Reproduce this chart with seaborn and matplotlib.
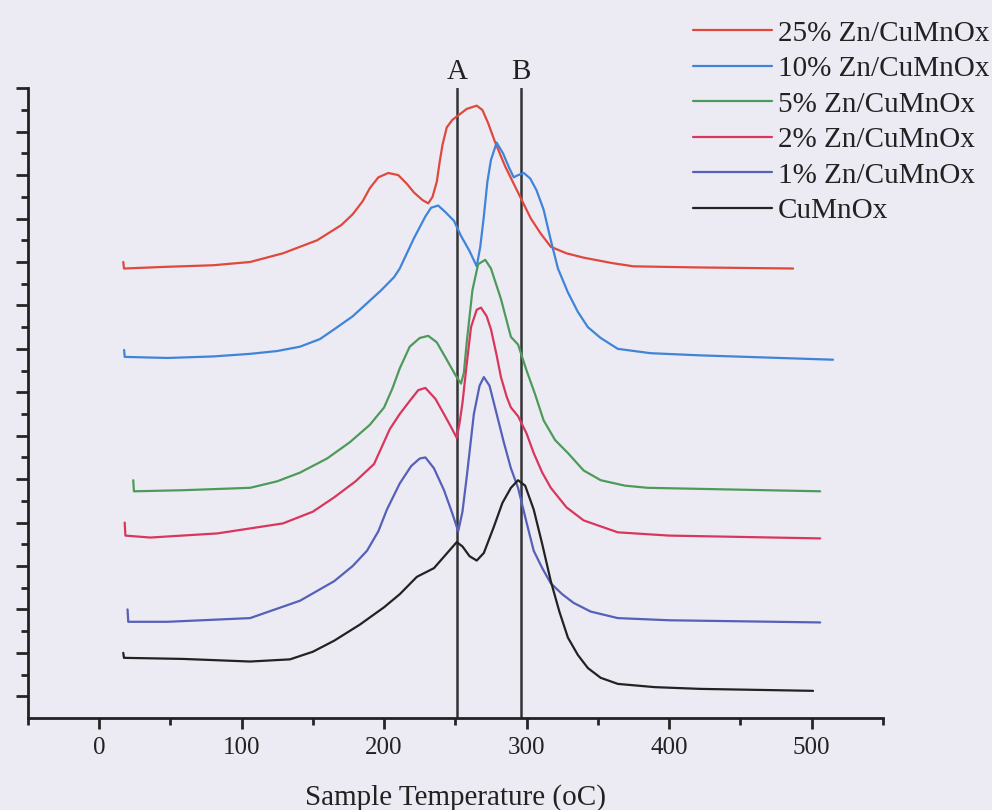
import numpy as np
import pandas as pd
import matplotlib
matplotlib.use("Agg")
import matplotlib.pyplot as plt
import matplotlib.transforms as mtransforms
from matplotlib.ticker import MultipleLocator, NullFormatter
import seaborn as sns

sns.set_style("ticks")
plt.rcParams['font.family'] = ['Liberation Serif', 'DejaVu Serif']

# values (temperature, offset signal)
t_25 = [17, 17.5, 48, 80, 106, 129, 153, 170, 178, 185, 190, 196, 203, 210, 216, 221, 227, 231, 234, 237, 239,
        241, 244, 248, 252, 258, 265, 269, 273, 278, 285, 294, 303, 310, 317, 328, 340, 360, 375, 420, 487]
s_25 = [21.0, 20.7, 20.78, 20.85, 21.0, 21.4, 22.0, 22.7, 23.2, 23.8, 24.4, 24.9, 25.1, 25.0, 24.6, 24.2, 23.85, 23.7,
        24.0, 24.7, 25.6, 26.4, 27.2, 27.55, 27.75, 28.05, 28.2, 28.0, 27.4, 26.5, 25.4, 24.2, 23.0, 22.3, 21.7, 21.4,
        21.2, 20.95, 20.8, 20.75, 20.7]

t_10 = [17.6, 18, 48, 80, 106, 125, 141, 155, 165, 178, 188, 198, 207, 211, 216, 221, 229, 233, 238, 243, 249, 254,
        260, 265, 267.5, 270, 272.5, 275, 279, 283.5, 288, 291, 294, 298, 302.5, 307, 312, 317, 322, 329, 336, 343,
        352, 364, 387, 422, 515]
s_10 = [16.95, 16.63, 16.58, 16.65, 16.77, 16.9, 17.1, 17.45, 17.9, 18.5, 19.1, 19.7, 20.3, 20.7, 21.4, 22.1, 23.1,
        23.5, 23.6, 23.3, 22.9, 22.2, 21.5, 20.8, 21.7, 23.1, 24.7, 25.7, 26.5, 26.0, 25.3, 24.9, 25.0, 25.1, 24.85,
        24.3, 23.4, 22.0, 20.7, 19.6, 18.7, 18.0, 17.5, 17.0, 16.8, 16.7, 16.5]

t_5 = [24, 24.5, 59, 106, 125, 141, 160, 176, 190, 200, 206, 211, 218, 225, 231, 237, 244, 250, 254, 256, 258, 262,
       266, 271, 275, 282, 289, 294, 300, 306, 312, 320, 329, 340, 352, 369, 385, 506]
s_5 = [10.95, 10.44, 10.49, 10.6, 10.9, 11.3, 11.95, 12.7, 13.5, 14.3, 15.2, 16.1, 17.1, 17.5, 17.6, 17.3, 16.5, 15.8,
       15.4, 15.9, 17.3, 19.7, 20.9, 21.1, 20.7, 19.3, 17.55, 17.2, 16.0, 14.9, 13.7, 12.8, 12.2, 11.4, 10.95, 10.7,
       10.6, 10.44]

t_2 = [18, 18.5, 36, 83, 129, 150, 165, 180, 193, 204, 211, 218, 224, 229, 236, 242, 247, 251, 253, 255, 258, 261,
       265, 268, 272, 275, 279, 282, 286, 289, 294, 300, 305, 311, 317, 328, 340, 364, 400, 506]
s_2 = [9.0, 8.4, 8.31, 8.5, 8.96, 9.5, 10.16, 10.9, 11.7, 13.3, 14.0, 14.6, 15.1, 15.2, 14.7, 14.0, 13.4, 12.9, 13.6,
       14.5, 16.3, 18.0, 18.8, 18.9, 18.5, 17.9, 16.7, 15.7, 14.8, 14.3, 13.9, 13.1, 12.2, 11.3, 10.6, 9.7, 9.1, 8.55,
       8.4, 8.27]

t_1 = [20, 20.5, 48, 106, 141, 165, 178, 188, 196, 202, 211, 219, 225, 229, 235, 242, 248, 252, 255, 258, 263, 267,
       270, 274, 279, 284, 289, 294, 300, 305, 311, 317, 325, 333, 345, 364, 400, 506]
s_1 = [5.0, 4.43, 4.43, 4.6, 5.4, 6.3, 7.0, 7.7, 8.6, 9.6, 10.8, 11.6, 11.95, 12.0, 11.5, 10.5, 9.4, 8.6, 9.5, 11.1,
       14.0, 15.3, 15.7, 15.3, 14.0, 12.7, 11.5, 10.6, 9.0, 7.7, 6.9, 6.2, 5.7, 5.3, 4.9, 4.6, 4.5, 4.4]

t_0 = [17, 17.5, 59, 106, 134, 150, 165, 183, 200, 211, 223, 235, 243, 251, 255, 260, 265, 270, 277, 283, 289, 294,
       299, 305, 311, 317, 323, 329, 336, 343, 352, 364, 390, 422, 501]
s_0 = [3.0, 2.77, 2.72, 2.6, 2.7, 3.05, 3.56, 4.3, 5.1, 5.7, 6.5, 6.9, 7.5, 8.1, 7.9, 7.45, 7.25, 7.6, 8.8, 9.9, 10.6,
       10.95, 10.7, 9.6, 8.0, 6.3, 4.9, 3.7, 2.9, 2.3, 1.85, 1.57, 1.42, 1.34, 1.25]

labels = ["25% Zn/CuMnOx", "10% Zn/CuMnOx", "5% Zn/CuMnOx",
          "2% Zn/CuMnOx", "1% Zn/CuMnOx", "CuMnOx"]
colors = ["#E0483C", "#3F84D8", "#4E9A5A", "#D9365E", "#5560B8", "#222222"]
peak_t = [251, 296]
peak_names = ["A", "B"]

series = [(t_25, s_25), (t_10, s_10), (t_5, s_5), (t_2, s_2), (t_1, s_1), (t_0, s_0)]
frames = []
for lab, (t, s) in zip(labels, series):
    frames.append(pd.DataFrame({"T": t, "signal": s, "sample": lab}))
df = pd.concat(frames, ignore_index=True)

bg = "#ECEBF3"
fig = plt.figure(figsize=(9.92, 8.10), dpi=100, facecolor=bg)
ax = fig.add_axes([0.028, 0.1136, 0.862, 0.7774])
ax.set_facecolor(bg)

sns.lineplot(data=df, x="T", y="signal", hue="sample", hue_order=labels,
             palette=colors, sort=False, estimator=None, linewidth=1.6, ax=ax)
for ln in ax.get_lines():
    ln.set_solid_joinstyle("round")

for t, name in zip(peak_t, peak_names):
    ax.axvline(t, color="#333333", linewidth=1.8, zorder=1)
    ax.text(t, 1.005, name, transform=mtransforms.blended_transform_factory(ax.transData, ax.transAxes),
            ha="center", va="bottom", fontsize=21, color="#222222")

ax.set_xlim(-50, 550)
ax.set_ylim(0, 29)
ax.xaxis.set_major_locator(MultipleLocator(100))
ax.xaxis.set_minor_locator(MultipleLocator(50))
ax.set_yticks(np.arange(1, 30, 2))
ax.set_yticks(np.arange(2, 29, 2), minor=True)
ax.yaxis.set_major_formatter(NullFormatter())
ax.tick_params(axis="x", which="major", length=8, width=2, labelsize=18, pad=6, labelcolor="#222222")
ax.tick_params(axis="x", which="minor", length=5, width=2)
ax.tick_params(axis="y", which="major", length=9, width=2)
ax.tick_params(axis="y", which="minor", length=5, width=2)
for side in ["top", "right"]:
    ax.spines[side].set_visible(False)
for side in ["left", "bottom"]:
    ax.spines[side].set_linewidth(2)
    ax.spines[side].set_color("#222222")

ax.set_xlabel("Sample Temperature (oC)", fontsize=21, labelpad=18, color="#222222")
ax.set_ylabel("")

handles, labs = ax.get_legend_handles_labels()
leg = ax.legend(handles, labs, loc="upper right", bbox_to_anchor=(1.012, 0.993),
                bbox_transform=fig.transFigure, frameon=False, fontsize=21,
                handlelength=2.7, handletextpad=0.2, labelspacing=0.31, borderaxespad=0.1)
for txt in leg.get_texts():
    txt.set_color("#222222")

fig.savefig("out.png", dpi=100, facecolor=bg)
